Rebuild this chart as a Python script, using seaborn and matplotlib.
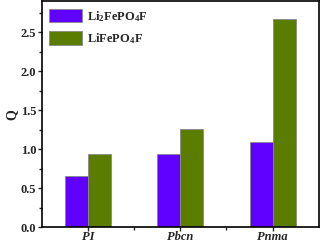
import pandas as pd
import seaborn as sns
import matplotlib.pyplot as plt
from matplotlib.ticker import MultipleLocator, FixedLocator

structures = ["PI", "Pbcn", "Pnma"]
li2_values = [0.66, 0.94, 1.09]
li_values = [0.94, 1.26, 2.67]
series = [r"Li$_2$FePO$_4$F", r"LiFePO$_4$F"]
palette = ["#6000FF", "#5A7D00"]

df = pd.DataFrame({
    "structure": structures * 2,
    "Q": li2_values + li_values,
    "compound": [series[0]] * 3 + [series[1]] * 3,
})

sns.set_style("ticks")
plt.rcParams['font.family'] = ['Liberation Serif', 'DejaVu Serif']
plt.rcParams['font.weight'] = 'bold'
plt.rcParams['mathtext.fontset'] = 'custom'
plt.rcParams['mathtext.rm'] = 'Liberation Serif:bold'
plt.rcParams['mathtext.default'] = 'regular'

fig, ax = plt.subplots(figsize=(3.22, 2.49), dpi=100)
fig.subplots_adjust(left=0.13, right=0.99, top=0.995, bottom=0.088)

sns.barplot(data=df, x="structure", y="Q", hue="compound", palette=palette,
            width=0.5, saturation=1, edgecolor="#888888", linewidth=0.6, ax=ax)

ax.set_xlim(-0.5, 2.5)
ax.set_ylim(0, 2.9)
ax.yaxis.set_major_locator(MultipleLocator(0.5))
ax.yaxis.set_minor_locator(MultipleLocator(0.25))
ax.xaxis.set_minor_locator(FixedLocator([0.5, 1.5]))
ax.tick_params(axis='both', which='major', direction='out', length=3, width=1,
               labelsize=9, pad=1)
ax.tick_params(axis='x', which='major', pad=0)
ax.tick_params(axis='both', which='minor', direction='out', length=2, width=1)
for lab in ax.get_xticklabels():
    lab.set_fontstyle('italic')
    lab.set_fontweight('bold')
for lab in ax.get_yticklabels():
    lab.set_fontweight('bold')
for sp in ax.spines.values():
    sp.set_linewidth(1.2)
    sp.set_color('black')

ax.set_xlabel("")
ax.set_ylabel("Q", fontsize=10, fontweight='bold', labelpad=2)

leg = ax.legend(loc='upper left', frameon=False, fontsize=9, handlelength=2.6,
                handleheight=1.3, borderaxespad=0.2, labelspacing=0.6,
                handletextpad=0.4)
for t in leg.get_texts():
    t.set_fontweight('bold')

fig.savefig("out.png", dpi=100)
